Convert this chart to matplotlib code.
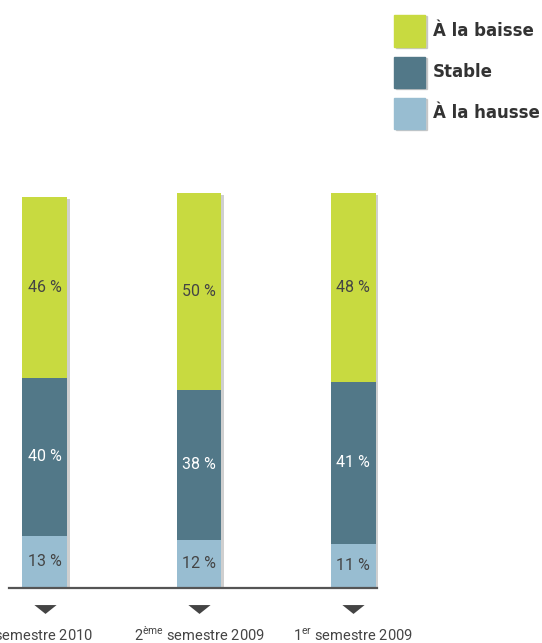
import matplotlib.pyplot as plt
from matplotlib.patches import Rectangle
from matplotlib.path import Path

periods = [r'1$^{\mathrm{er}}$ semestre 2010',
           r'2$^{\mathrm{ème}}$ semestre 2009',
           r'1$^{\mathrm{er}}$ semestre 2009']
hausse = [13, 12, 11]
stable = [40, 38, 41]
baisse = [46, 50, 48]

series = ['À la baisse', 'Stable', 'À la hausse']
colors = {'À la hausse': '#98bdd1', 'Stable': '#527888', 'À la baisse': '#c8da40'}

plt.rcParams['font.family'] = ['Roboto', 'DejaVu Sans']
plt.rcParams['mathtext.fontset'] = 'custom'
plt.rcParams['mathtext.rm'] = 'Roboto'

fig = plt.figure(figsize=(5.42, 6.43), dpi=100)
ax = fig.add_axes([0, 0, 1, 1])
ax.set_xlim(-0.292, 3.227)
ax.set_ylim(-14.21, 148.98)
ax.axis('off')

x = list(range(len(periods)))
w = 0.292
txt = '#444444'

# soft shadow behind the bars
tot = [a + b + c for a, b, c in zip(hausse, stable, baisse)]
ax.bar([i + 0.018 for i in x], tot, w, bottom=-0.6, color='#b0b0b0', alpha=0.6, zorder=1)

bottom = [0, 0, 0]
for vals, name, tc in [(hausse, 'À la hausse', txt), (stable, 'Stable', 'white'), (baisse, 'À la baisse', txt)]:
    ax.bar(x, vals, w, bottom=bottom, color=colors[name], zorder=2)
    for i, v in enumerate(vals):
        ax.text(x[i], bottom[i] + v / 2, f'{v} %', ha='center', va='center',
                fontsize=11.5, color=tc, zorder=3)
    bottom = [b + v for b, v in zip(bottom, vals)]

ax.plot([-0.234, 2.156], [-0.3, -0.3], color='#555555', lw=1.6, zorder=4)
tri = Path([(-1, 0.4), (1, 0.4), (0, -0.4), (-1, 0.4)],
           [Path.MOVETO, Path.LINETO, Path.LINETO, Path.CLOSEPOLY])
ax.plot(x, [-5.6] * 3, marker=tri, ls='none', color='#444444', mew=0, markersize=16, zorder=4)
for i, lab in enumerate(periods):
    dx = -0.08 if i == 0 else 0
    ax.text(x[i] + dx, -13.5, lab, ha='center', va='baseline', fontsize=10.5, color=txt)

# legend
for k, name in enumerate(series):
    yc = 31 + 41 * k
    fig.patches.append(Rectangle((396 / 542, 1 - (yc + 16.5) / 643), 31 / 542, 31 / 643,
                                 transform=fig.transFigure, color='#b0b0b0', alpha=0.6))
    fig.patches.append(Rectangle((394 / 542, 1 - (yc + 15.5) / 643), 31 / 542, 31 / 643,
                                 transform=fig.transFigure, color=colors[name]))
    fig.text(433 / 542, 1 - yc / 643, name, ha='left', va='center', fontsize=12,
             fontweight='bold', color='#333333', family=['DejaVu Sans'])

fig.savefig('out.png', dpi=100)
